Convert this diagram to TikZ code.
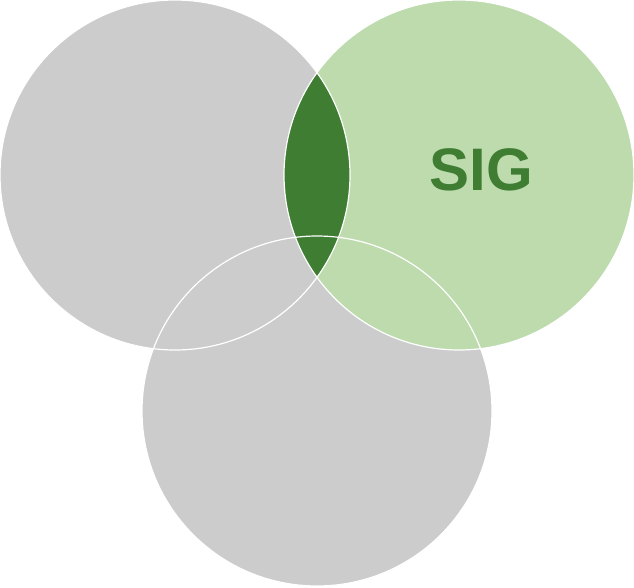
\documentclass[tikz,border=0pt]{standalone}
\usepackage{fontspec}
\setmainfont{Liberation Sans}
\usepackage{xcolor}
\usepackage{tikz}
\usetikzlibrary{calc, positioning}

\definecolor{vgray}{HTML}{CCCCCC}
\definecolor{lgreen}{HTML}{BDDBAD}
\definecolor{dgreen}{HTML}{3E7D32}

\begin{document}
\begin{tikzpicture}[x=1pt, y=-1pt]
    \useasboundingbox (0,0) rectangle (634,587);
    % Tâm ba đường tròn
    \coordinate (left) at (175,175);
    \coordinate (right) at (459,175);
    \coordinate (bottom) at (317,411);

    % Tô màu các đường tròn
    \fill[vgray] (left) circle[radius=175pt];
    \fill[vgray] (bottom) circle[radius=175pt];
    \fill[lgreen] (right) circle[radius=175pt];
    \begin{scope}
        \clip (left) circle[radius=175pt];
        \fill[dgreen] (right) circle[radius=175pt];
    \end{scope}

    % Viền trắng
    \foreach \c in {left, right, bottom}
        \draw[white, line width=1.2pt] (\c) circle[radius=175pt];

    \node[text=dgreen, font=\bfseries\fontsize{60}{60}\selectfont] (sig) at (481,170) {SIG};
\end{tikzpicture}
\end{document}
